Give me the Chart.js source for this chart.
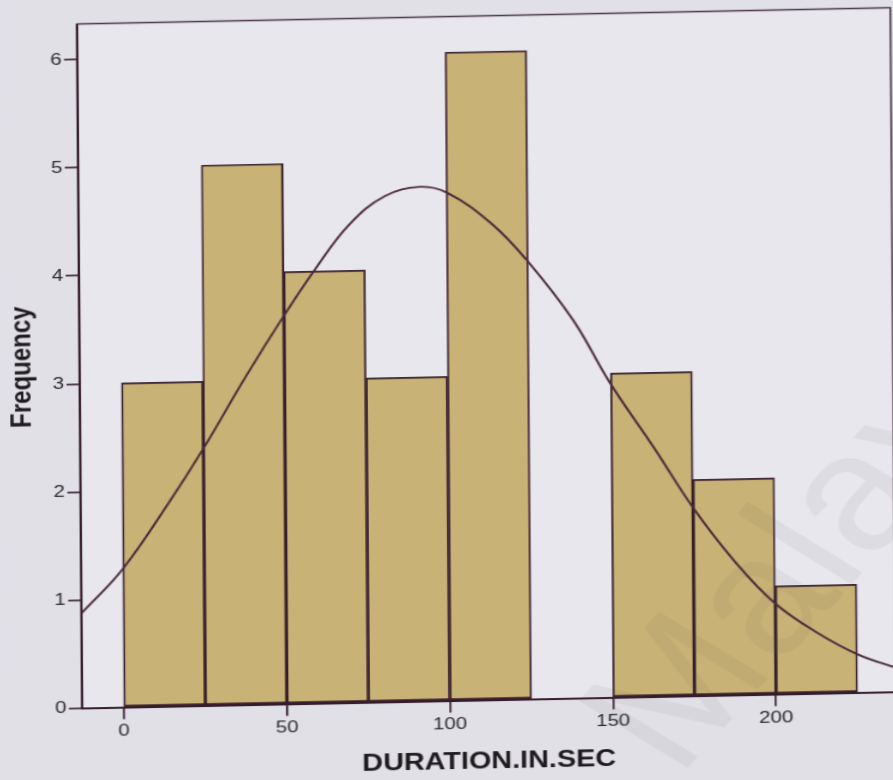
<!DOCTYPE html>
<html>
<head>
<meta charset="utf-8">
<script src="https://cdn.jsdelivr.net/npm/chart.js@4/dist/chart.umd.min.js"></script>
<style>
  html, body { margin: 0; padding: 0; width: 893px; height: 780px; overflow: hidden; background: #e1e0e7; }
  /* the printed page is slightly stretched and tilted */
  #sheet { position: absolute; left: 0; top: 0; width: 744px; height: 800px;
           transform-origin: 0 0; transform: matrix(1.2, -0.024, 0.0075, 1, 0, 0); }
  canvas { display: block; }
</style>
</head>
<body>
<div id="sheet"><canvas id="hist" width="744" height="800"></canvas></div>
<script>
// Histogram of durations (bins of 25 s) with fitted normal curve
const binCenters  = [12.5, 37.5, 62.5, 87.5, 112.5, 137.5, 162.5, 187.5, 212.5];
const frequencies = [3, 5, 4, 3, 6, 0, 3, 2, 1];

const curveX = [-12.7, 0, 14.6, 24.8, 38, 49.7, 60.2, 70.4, 81.2, 92, 100.3, 113.7, 124.6, 138.6, 149.8, 163.2, 175, 187.8, 199.9, 212.8, 225.3, 236];
const curveY = [0.88, 1.28, 1.90, 2.37, 3.03, 3.58, 4.04, 4.43, 4.68, 4.76, 4.70, 4.41, 4.06, 3.50, 2.91, 2.30, 1.74, 1.23, 0.84, 0.56, 0.35, 0.23];

const xTicks = [0, 50, 100, 150, 200];
const yTicks = [0, 1, 2, 3, 4, 5, 6];

const FONT = "'Liberation Sans', Arial, sans-serif";
const INK = '#361d2c';

const paperPlugin = {
  id: 'paper',
  beforeDraw(chart) {
    const { ctx, chartArea: a } = chart;
    ctx.save();
    ctx.fillStyle = '#e1e0e7';
    ctx.fillRect(0, 0, chart.width, chart.height);
    ctx.fillStyle = '#e8e7ee';
    ctx.fillRect(a.left, a.top, a.right - a.left, a.bottom - a.top);
    ctx.restore();
  },
  afterDraw(chart) {
    const { ctx, chartArea: a } = chart;
    ctx.save();
    // top and right edges of the plot frame
    ctx.strokeStyle = '#4a3444';
    ctx.lineWidth = 1.5;
    ctx.beginPath();
    ctx.moveTo(a.left, a.top);
    ctx.lineTo(a.right, a.top);
    ctx.lineTo(a.right, a.bottom);
    ctx.stroke();
    // faint library watermark
    ctx.translate(560, 792);
    ctx.rotate(-52.6 * Math.PI / 180);
    ctx.font = "165px " + FONT;
    ctx.fillStyle = 'rgba(80, 80, 90, 0.07)';
    ctx.textBaseline = 'alphabetic';
    ctx.fillText('Malaya', 0, 0);
    ctx.restore();
  }
};

new Chart(document.getElementById('hist'), {
  data: {
    datasets: [
      {
        type: 'line',
        data: curveX.map((x, i) => ({ x: x, y: curveY[i] })),
        borderColor: '#4b2b3b',
        borderWidth: 1.9,
        pointRadius: 0,
        tension: 0.4,
        fill: false,
        order: 0
      },
      {
        type: 'bar',
        data: binCenters.map((x, i) => ({ x: x, y: frequencies[i] })),
        backgroundColor: '#c9b275',
        borderColor: INK,
        borderWidth: 1.7,
        borderSkipped: false,
        barPercentage: 1,
        categoryPercentage: 1,
        order: 1
      }
    ]
  },
  options: {
    responsive: false,
    devicePixelRatio: 1,
    animation: false,
    layout: { padding: { top: 25.5, right: 2.3, bottom: 0, left: 0 } },
    plugins: { legend: { display: false }, tooltip: { enabled: false } },
    scales: {
      x: {
        type: 'linear',
        min: -12.8,
        max: 236.6,
        offset: false,
        afterBuildTicks: s => { s.ticks = xTicks.map(v => ({ value: v })); },
        afterFit: s => { s.height = 90.5; },
        grid: { offset: false, drawOnChartArea: false, drawTicks: true, tickLength: 12, color: INK, lineWidth: 1.6 },
        border: { display: true, color: INK, width: 2 },
        ticks: { padding: 2, color: '#2c2a2c', font: { family: FONT, size: 17 }, maxRotation: 0 },
        title: { display: true, text: 'DURATION.IN.SEC', color: '#1e1a1e',
                 font: { family: FONT, size: 24, weight: 'bold' }, padding: { top: 0, bottom: 14.6 } }
      },
      y: {
        type: 'linear',
        min: 0,
        max: 6.33,
        afterBuildTicks: s => { s.ticks = yTicks.map(v => ({ value: v })); },
        afterFit: s => { s.width = 64; },
        grid: { drawOnChartArea: false, drawTicks: true, tickLength: 11, color: INK, lineWidth: 1.6 },
        border: { display: true, color: INK, width: 2 },
        ticks: { padding: 2, color: '#2c2a2c', font: { family: FONT, size: 17 } },
        title: { display: true, text: 'Frequency', color: '#1e1a1e',
                 font: { family: FONT, size: 24, weight: 'bold' }, padding: { top: 1.6, bottom: 0 } }
      }
    }
  },
  plugins: [paperPlugin]
});
</script>
</body>
</html>
